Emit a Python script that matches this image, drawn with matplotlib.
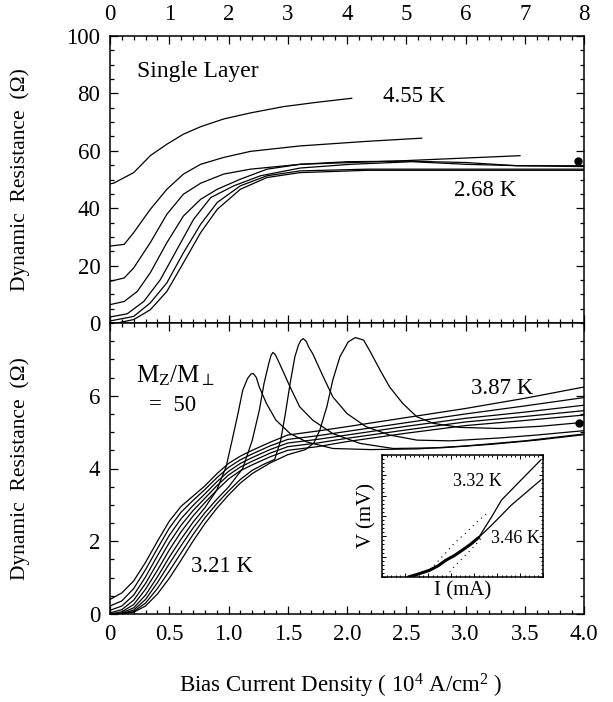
import numpy as np
import matplotlib
matplotlib.use("Agg")
from matplotlib import pyplot as plt
from matplotlib.ticker import MultipleLocator

# ---- top panel: single layer, x in 10^4 A/cm^2 (0..8)
top_curves = [
    # 4.55 K
    ([0, 0.06, 0.4, 0.68, 0.96, 1.24, 1.53, 1.92, 2.37, 2.93, 3.49, 4.08],
     [48.5, 48.7, 52.4, 58.3, 62.3, 65.8, 68.4, 71.1, 73.2, 75.4, 76.9, 78.3]),
    ([0, 0.24, 0.4, 0.68, 0.96, 1.24, 1.53, 1.92, 2.37, 3.21, 4.34, 5.26],
     [26.8, 27.4, 31.5, 39.6, 46.6, 51.9, 55.3, 57.7, 59.8, 61.7, 63.3, 64.4]),
    ([0, 0.24, 0.4, 0.68, 0.96, 1.24, 1.53, 1.92, 2.37, 3.21, 4.9, 6.92],
     [14.5, 15.7, 19.2, 28, 37.9, 44.9, 48.7, 51.9, 53.6, 55.3, 56.5, 58.3]),
    ([0, 0.24, 0.46, 0.68, 0.96, 1.24, 1.53, 1.81, 2.2, 2.65, 3.21, 4.0, 5.0, 6.02, 6.87, 8],
     [6.4, 7.5, 11, 17.5, 28, 37.3, 43.1, 46.6, 50.1, 53.6, 55.3, 56.2, 56.4, 55.9, 54.8, 54.8]),
    ([0, 0.29, 0.57, 0.85, 1.13, 1.41, 1.7, 2.09, 2.54, 3.21, 4.06, 5.1, 6.0, 6.9, 8],
     [2.1, 3.2, 7.5, 15.1, 25.6, 36.1, 43.7, 47.8, 51.3, 54, 55.3, 56.2, 55.3, 54.8, 54.5]),
    ([0, 0.4, 0.68, 0.96, 1.24, 1.53, 1.81, 2.2, 2.65, 3.21, 4.34, 8],
     [0.7, 2.3, 7, 14, 24.5, 34.4, 42, 47.8, 51.3, 53, 53.6, 53.6]),
    # 2.68 K
    ([0.12, 0.4, 0.68, 0.96, 1.24, 1.53, 1.81, 2.2, 2.65, 3.21, 4.34, 8],
     [0, 1.2, 4.6, 11, 21, 31.5, 39.6, 46.6, 50.7, 52.4, 53.2, 53.2]),
]
top_dot = (7.9, 56.6)

# ---- bottom panel: M_z/M_perp = 50, x in 10^4 A/cm^2 (0..4)
bundle_x = [0, 0.1, 0.2, 0.3, 0.4, 0.5, 0.6, 0.7, 0.8, 0.9, 1.0, 1.1, 1.2, 1.35, 1.5,
            1.75, 2.0, 2.5, 3.0, 3.5, 4.0]
bundle_y = [
    # 3.87 K
    [0.40, 0.58, 0.91, 1.42, 2.00, 2.55, 2.96, 3.24, 3.52, 3.85, 4.14, 4.34, 4.50, 4.72, 4.92,
     5.03, 5.15, 5.40, 5.65, 5.93, 6.24],
    [0.22, 0.36, 0.70, 1.22, 1.80, 2.36, 2.80, 3.12, 3.42, 3.74, 4.03, 4.24, 4.40, 4.62, 4.80,
     4.90, 5.02, 5.26, 5.50, 5.72, 5.95],
    [0.10, 0.22, 0.52, 1.02, 1.60, 2.16, 2.62, 2.98, 3.30, 3.63, 3.92, 4.14, 4.30, 4.52, 4.70,
     4.80, 4.92, 5.16, 5.38, 5.55, 5.74],
    [0.03, 0.12, 0.38, 0.84, 1.40, 1.96, 2.44, 2.84, 3.18, 3.52, 3.82, 4.04, 4.20, 4.42, 4.60,
     4.70, 4.83, 5.06, 5.28, 5.43, 5.59],
    [0.00, 0.06, 0.26, 0.68, 1.20, 1.76, 2.26, 2.69, 3.06, 3.40, 3.71, 3.94, 4.10, 4.32, 4.50,
     4.60, 4.74, 4.97, 5.18, 5.32, 5.47],
]
peak_curves = [
    ([0, 0.1, 0.2, 0.3, 0.4, 0.5, 0.6, 0.7, 0.8, 0.9, 0.98, 1.03, 1.08, 1.12, 1.16, 1.19, 1.21,
      1.235, 1.26, 1.32, 1.40, 1.52, 1.66, 1.88, 2.2, 2.6, 3.0, 3.5, 4.0],
     [0.00, 0.03, 0.17, 0.52, 1.02, 1.56, 2.06, 2.52, 2.92, 3.40, 4.05, 4.77, 5.51, 6.15, 6.47,
      6.6, 6.61, 6.5, 6.24, 5.79, 5.33, 4.96, 4.73, 4.55, 4.52, 4.54, 4.62, 4.76, 4.95]),
    ([0, 0.1, 0.2, 0.3, 0.4, 0.5, 0.6, 0.7, 0.8, 0.9, 1.0, 1.12, 1.20, 1.26, 1.30, 1.34, 1.36,
      1.375, 1.395, 1.43, 1.52, 1.60, 1.71, 1.88, 2.11, 2.39, 2.8, 3.2, 3.6, 4.0],
     [0.00, 0.01, 0.11, 0.40, 0.86, 1.38, 1.88, 2.36, 2.78, 3.15, 3.49, 4.0, 4.77, 5.6, 6.34,
      6.89, 7.12, 7.19, 7.13, 6.89, 6.24, 5.7, 5.33, 4.96, 4.69, 4.55, 4.57, 4.66, 4.78, 4.93]),
    ([0, 0.1, 0.2, 0.3, 0.4, 0.5, 0.6, 0.7, 0.8, 0.9, 1.0, 1.1, 1.2, 1.3, 1.39, 1.44, 1.48,
      1.52, 1.56, 1.59, 1.61, 1.63, 1.655, 1.68, 1.71, 1.8, 1.88, 2.0, 2.16, 2.36, 2.59, 2.87,
      3.29, 3.6, 4.0],
     [0.00, 0.00, 0.07, 0.30, 0.70, 1.18, 1.68, 2.18, 2.64, 3.03, 3.38, 3.70, 3.95, 4.12, 4.25,
      4.77, 5.51, 6.34, 7.07, 7.39, 7.52, 7.57, 7.5, 7.32, 7.16, 6.52, 5.97, 5.51, 5.15, 4.92,
      4.78, 4.76, 4.84, 4.92, 5.04]),
    # 3.21 K
    ([0, 0.1, 0.2, 0.3, 0.4, 0.5, 0.6, 0.7, 0.8, 0.9, 1.0, 1.1, 1.2, 1.35, 1.5, 1.65, 1.72,
      1.77, 1.83, 1.88, 1.94, 2.01, 2.07, 2.14, 2.19, 2.28, 2.36, 2.47, 2.59, 2.73, 2.95, 3.29,
      3.63, 4.0],
     [0.00, 0.00, 0.05, 0.22, 0.55, 0.98, 1.48, 2.00, 2.48, 2.90, 3.27, 3.60, 3.86, 4.15, 4.38,
      4.52, 4.7, 5.05, 5.7, 6.43, 7.07, 7.48, 7.6, 7.53, 7.25, 6.7, 6.24, 5.79, 5.42, 5.24,
      5.13, 5.1, 5.16, 5.27]),
]
bot_dot = (3.96, 5.26)

# ---- inset I-V (axes fraction units, no scale given)
iv_common = ([0.163, 0.22, 0.295, 0.35, 0.396, 0.45, 0.498, 0.55, 0.6],
             [0.0, 0.022, 0.055, 0.093, 0.137, 0.176, 0.219, 0.268, 0.323])
iv_332 = ([0.6, 0.681, 0.742, 0.843, 0.986], [0.323, 0.493, 0.63, 0.767, 0.959])
iv_346 = ([0.6, 0.681, 0.803, 0.986], [0.323, 0.425, 0.589, 0.795])
iv_dot_a = ([0.30, 0.335, 0.447, 0.528, 0.579, 0.66], [0.06, 0.11, 0.274, 0.37, 0.438, 0.53])
iv_dot_b = ([0.42, 0.447, 0.508, 0.579, 0.63], [0.04, 0.082, 0.164, 0.26, 0.34])

FONT = ["Liberation Serif", "DejaVu Serif"]
LW = 0.9
TICK_FS = 16.5
TEXT_FS = 16.5


def style_axis(ax, xmaj, xmin, ymaj, ymin):
    ax.xaxis.set_major_locator(MultipleLocator(xmaj))
    ax.xaxis.set_minor_locator(MultipleLocator(xmin))
    ax.yaxis.set_major_locator(MultipleLocator(ymaj))
    ax.yaxis.set_minor_locator(MultipleLocator(ymin))
    ax.tick_params(which="both", direction="in", top=True, bottom=True, left=True, right=True,
                   width=0.9, labelsize=TICK_FS)
    ax.tick_params(which="major", length=6)
    ax.tick_params(which="minor", length=3)
    for s in ax.spines.values():
        s.set_linewidth(1.1)


def main():
    plt.rcParams["font.family"] = FONT
    plt.rcParams["mathtext.fontset"] = "custom"
    plt.rcParams["mathtext.rm"] = "Liberation Serif"
    plt.rcParams["mathtext.it"] = "Liberation Serif:italic"

    fig = plt.figure(figsize=(6.13, 7.02), dpi=100)
    left, width = 110 / 613, (584 - 110) / 613
    ax_top = fig.add_axes([left, 1 - 323 / 702, width, (323 - 36) / 702])
    ax_bot = fig.add_axes([left, 1 - 614 / 702, width, (614 - 323) / 702])

    # top panel
    for xs, ys in top_curves:
        ax_top.plot(xs, ys, color="black", lw=LW)
    ax_top.plot(*top_dot, "o", color="black", ms=5)
    ax_top.set_xlim(0, 8)
    ax_top.set_ylim(0, 100)
    style_axis(ax_top, 1, 0.2, 20, 5)
    ax_top.tick_params(axis="x", labeltop=True, labelbottom=False, pad=8)
    ax_top.tick_params(axis="y", pad=7)
    ax_top.set_ylabel("Dynamic  Resistance  (\u03a9)", fontsize=15.5)
    ax_top.yaxis.set_label_coords(-0.168, 0.5)
    ax_top.text(0.46, 87.5, "Single Layer", fontsize=17, va="center")
    ax_top.text(4.6, 79, "4.55 K", fontsize=TEXT_FS, va="center")
    ax_top.text(5.8, 46, "2.68 K", fontsize=TEXT_FS, va="center")

    # bottom panel
    for ys in bundle_y:
        ax_bot.plot(bundle_x, ys, color="black", lw=LW)
    for xs, ys in peak_curves:
        ax_bot.plot(xs, ys, color="black", lw=LW)
    ax_bot.plot(*bot_dot, "o", color="black", ms=5)
    ax_bot.set_xlim(0, 4)
    ax_bot.set_ylim(0, 8)
    style_axis(ax_bot, 0.5, 0.1, 2, 0.5)
    ax_bot.set_yticks([0, 2, 4, 6])
    ax_bot.set_xticks(np.arange(0, 4.01, 0.5))
    ax_bot.set_xticklabels(["0", "0.5", "1.0", "1.5", "2.0", "2.5", "3.0", "3.5", "4.0"])
    ax_bot.tick_params(axis="x", pad=7)
    ax_bot.tick_params(axis="y", pad=7)
    ax_bot.set_ylabel("Dynamic  Resistance  (\u03a9)", fontsize=15.5)
    ax_bot.yaxis.set_label_coords(-0.168, 0.5)
    ax_bot.text(0.22, 6.55, r"M$_\mathrm{Z}$/M$_\perp$", fontsize=18, va="center")
    ax_bot.text(0.33, 5.72, "=  50", fontsize=TEXT_FS, va="center")
    ax_bot.text(3.05, 6.2, "3.87 K", fontsize=TEXT_FS, va="center")
    ax_bot.text(0.68, 1.3, "3.21 K", fontsize=TEXT_FS, va="center")

    fig.text(341 / 613, 1 - 686 / 702,
             r"Bias Current Density ( 10$^4$ A/cm$^2$ )", fontsize=16.5, ha="center", va="center")

    # inset
    ax_in = fig.add_axes([382 / 613, 1 - 577 / 702, 161 / 613, 122 / 702])
    ax_in.plot(*iv_common, color="black", lw=2.2, solid_capstyle="round")
    ax_in.plot(*iv_332, color="black", lw=LW)
    ax_in.plot(*iv_346, color="black", lw=LW)
    ax_in.plot(*iv_dot_a, color="black", lw=0.8, ls=(0, (1, 4)))
    ax_in.plot(*iv_dot_b, color="black", lw=0.8, ls=(0, (1, 4)))
    ax_in.set_xlim(0, 1)
    ax_in.set_ylim(0, 1)
    ax_in.xaxis.set_major_locator(MultipleLocator(1 / 7))
    ax_in.xaxis.set_minor_locator(MultipleLocator(1 / 35))
    ax_in.yaxis.set_major_locator(MultipleLocator(1 / 6))
    ax_in.yaxis.set_minor_locator(MultipleLocator(1 / 30))
    ax_in.tick_params(which="both", direction="in", top=True, right=True, width=0.7,
                      labelbottom=False, labelleft=False)
    ax_in.tick_params(which="major", length=3)
    ax_in.tick_params(which="minor", length=1.5)
    for s in ax_in.spines.values():
        s.set_linewidth(1.1)
    ax_in.set_xlabel("I (mA)", fontsize=15, labelpad=3)
    ax_in.set_ylabel("V (mV)", fontsize=15, labelpad=4)
    ax_in.text(0.44, 0.78, "3.32 K", fontsize=13, va="center")
    ax_in.text(0.68, 0.315, "3.46 K", fontsize=13, va="center")

    fig.savefig("out.png", dpi=100)


if __name__ == "__main__":
    main()
